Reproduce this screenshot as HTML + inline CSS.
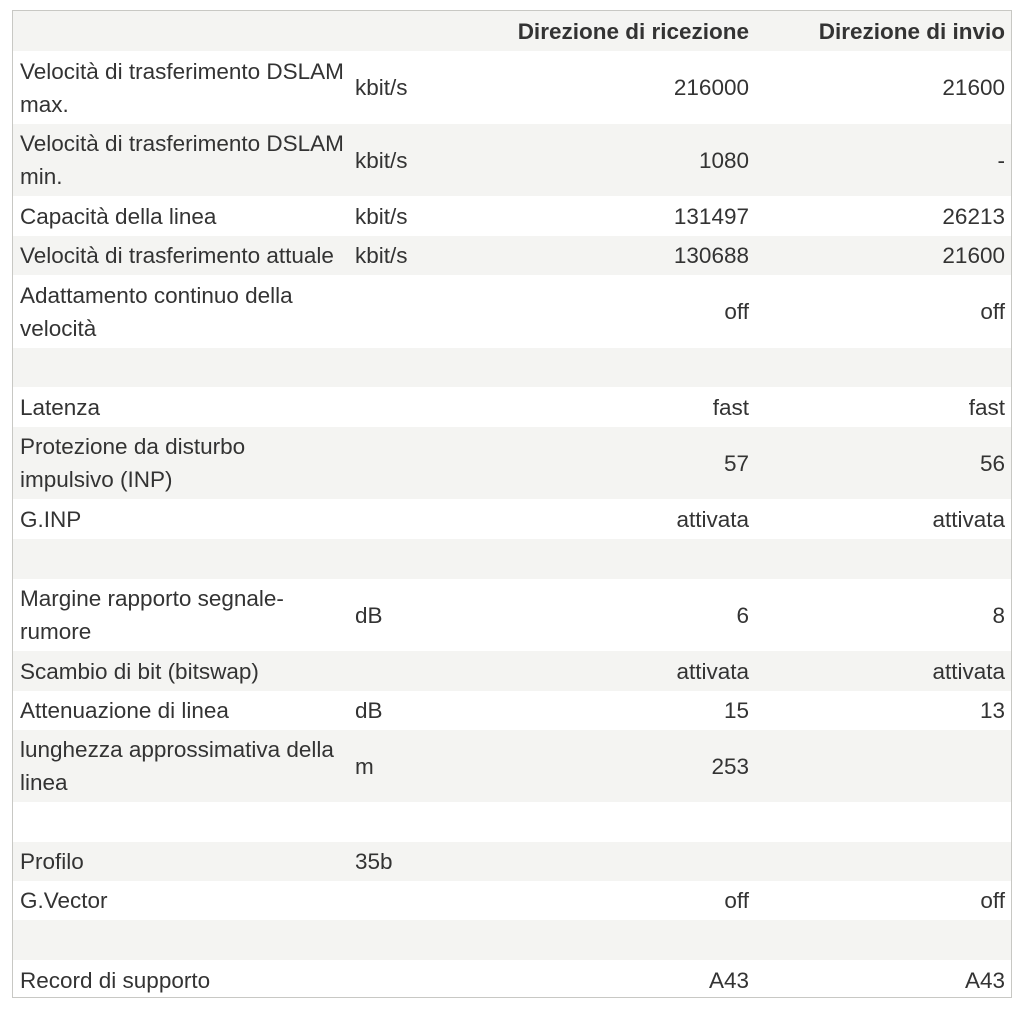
<!DOCTYPE html>
<html><head><meta charset="utf-8"><style>
body{margin:0;background:#fff;width:1024px;height:1011px;position:relative;font-family:"Liberation Sans",sans-serif;color:#333;font-size:22.5px}
#box{position:absolute;left:12px;top:10px;width:998px;height:986px;border:1px solid #c8c8c4;overflow:hidden}
.r{position:absolute;left:0;width:998px;white-space:nowrap}
.g{background:#f4f4f2}
.c{position:absolute;top:0;height:100%;display:flex;align-items:center;line-height:33px}
.a{left:7px}.u{left:342px}.d{right:262px;justify-content:flex-end}.e{right:6px;justify-content:flex-end}
.h{font-weight:bold}
</style></head><body><div id="box">
<div class="r g" style="top:0;height:40px"><div class="c d h">Direzione di ricezione</div><div class="c e h">Direzione di invio</div></div>
<div class="r" style="top:40px;height:73px"><div class="c a">Velocità di trasferimento DSLAM<br>max.</div><div class="c u">kbit/s</div><div class="c d">216000</div><div class="c e">21600</div></div>
<div class="r g" style="top:113px;height:72px"><div class="c a">Velocità di trasferimento DSLAM<br>min.</div><div class="c u">kbit/s</div><div class="c d">1080</div><div class="c e">-</div></div>
<div class="r" style="top:185px;height:40px"><div class="c a">Capacità della linea</div><div class="c u">kbit/s</div><div class="c d">131497</div><div class="c e">26213</div></div>
<div class="r g" style="top:225px;height:39px"><div class="c a">Velocità di trasferimento attuale</div><div class="c u">kbit/s</div><div class="c d">130688</div><div class="c e">21600</div></div>
<div class="r" style="top:264px;height:73px"><div class="c a">Adattamento continuo della<br>velocità</div><div class="c d">off</div><div class="c e">off</div></div>
<div class="r g" style="top:337px;height:39px"></div>
<div class="r" style="top:376px;height:40px"><div class="c a">Latenza</div><div class="c d">fast</div><div class="c e">fast</div></div>
<div class="r g" style="top:416px;height:72px"><div class="c a">Protezione da disturbo<br>impulsivo (INP)</div><div class="c d">57</div><div class="c e">56</div></div>
<div class="r" style="top:488px;height:40px"><div class="c a">G.INP</div><div class="c d">attivata</div><div class="c e">attivata</div></div>
<div class="r g" style="top:528px;height:40px"></div>
<div class="r" style="top:568px;height:72px"><div class="c a">Margine rapporto segnale-<br>rumore</div><div class="c u">dB</div><div class="c d">6</div><div class="c e">8</div></div>
<div class="r g" style="top:640px;height:40px"><div class="c a">Scambio di bit (bitswap)</div><div class="c d">attivata</div><div class="c e">attivata</div></div>
<div class="r" style="top:680px;height:39px"><div class="c a">Attenuazione di linea</div><div class="c u">dB</div><div class="c d">15</div><div class="c e">13</div></div>
<div class="r g" style="top:719px;height:72px"><div class="c a">lunghezza approssimativa della<br>linea</div><div class="c u">m</div><div class="c d">253</div></div>
<div class="r" style="top:791px;height:40px"></div>
<div class="r g" style="top:831px;height:39px"><div class="c a">Profilo</div><div class="c u">35b</div></div>
<div class="r" style="top:870px;height:39px"><div class="c a">G.Vector</div><div class="c d">off</div><div class="c e">off</div></div>
<div class="r g" style="top:909px;height:40px"></div>
<div class="r" style="top:949px;height:40px"><div class="c a">Record di supporto</div><div class="c d">A43</div><div class="c e">A43</div></div>
</div></body></html>
